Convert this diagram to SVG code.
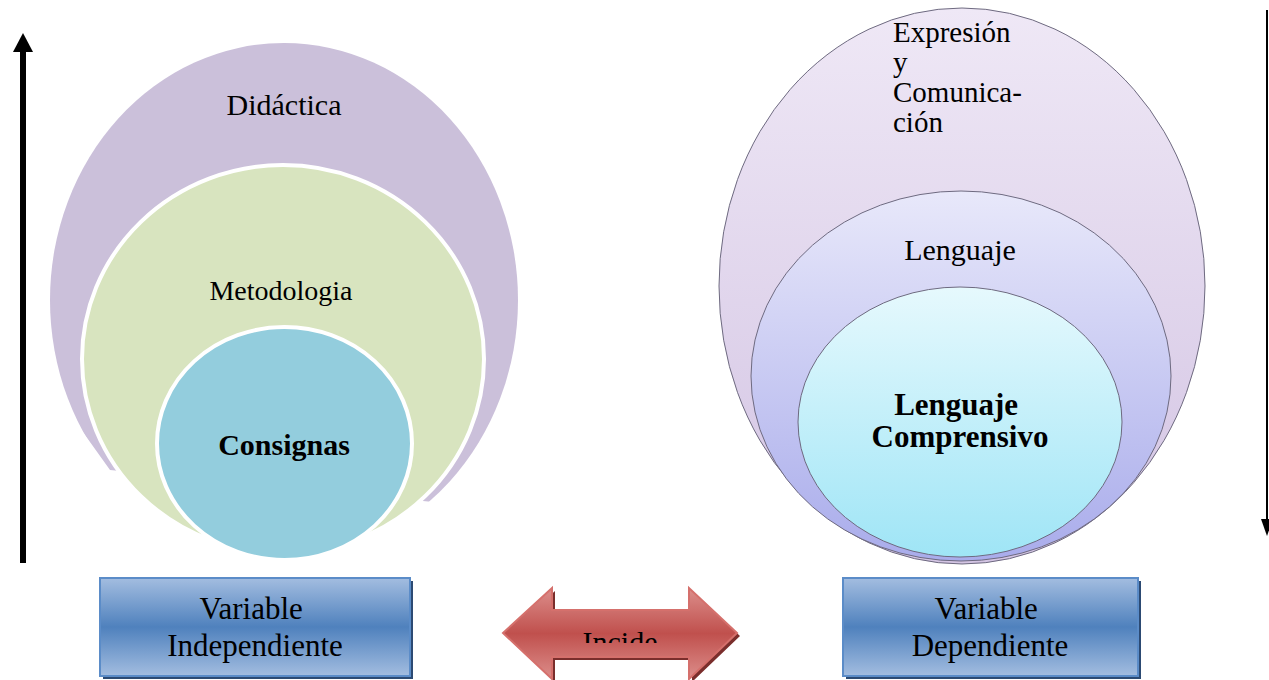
<svg xmlns="http://www.w3.org/2000/svg" width="1269" height="680" viewBox="0 0 1269 680">
<style>
  .t { font-family: "Liberation Serif", "Times New Roman", serif; fill: #000; }
  .b { font-weight: bold; }
  .rim { stroke: #6e6a80; stroke-width: 1; }
</style>
<defs>
  <linearGradient id="gOuter" x1="0" y1="0" x2="0" y2="1">
    <stop offset="0" stop-color="#efe8f6"/>
    <stop offset="1" stop-color="#d3c4e3"/>
  </linearGradient>
  <linearGradient id="gMid" x1="0" y1="0" x2="0" y2="1">
    <stop offset="0" stop-color="#e8e8fa"/>
    <stop offset="1" stop-color="#a9aceb"/>
  </linearGradient>
  <linearGradient id="gInner" x1="0" y1="0" x2="0" y2="1">
    <stop offset="0" stop-color="#e6f9fd"/>
    <stop offset="1" stop-color="#9fe5f6"/>
  </linearGradient>
  <linearGradient id="gBox" x1="0" y1="0" x2="0" y2="1">
    <stop offset="0" stop-color="#a3bde0"/>
    <stop offset="0.5" stop-color="#4f81bd"/>
    <stop offset="1" stop-color="#a3bde0"/>
  </linearGradient>
  <linearGradient id="gRed" x1="0" y1="0" x2="0" y2="1">
    <stop offset="0" stop-color="#dc8e8b"/>
    <stop offset="0.5" stop-color="#c0504d"/>
    <stop offset="1" stop-color="#dc8e8b"/>
  </linearGradient>
  <clipPath id="purpleClip">
    <path d="M0 0 H560 V502 L433 502 L110 470 L60 400 L0 400 Z"/>
  </clipPath>
  <clipPath id="incideClip">
    <rect x="560" y="600" width="120" height="43"/>
  </clipPath>
</defs>

<!-- Left nested circles -->
<g id="didactica">
  <ellipse cx="284" cy="300" rx="234" ry="257" fill="#cbc0da" clip-path="url(#purpleClip)"/>
  <text class="t" x="284" y="115" font-size="30" text-anchor="middle">Didáctica</text>
</g>
<g id="metodologia">
  <ellipse cx="283" cy="359" rx="201" ry="194" fill="#d8e4bf" stroke="#fff" stroke-width="4"/>
  <text class="t" x="281" y="300" font-size="28" text-anchor="middle">Metodologia</text>
</g>
<g id="consignas">
  <ellipse cx="284.5" cy="443.5" rx="127.5" ry="116.5" fill="#93cddd" stroke="#fff" stroke-width="4"/>
  <text class="t b" x="284" y="455" font-size="30" text-anchor="middle">Consignas</text>
</g>

<!-- Right nested circles -->
<g id="expresion">
  <ellipse cx="962" cy="286" rx="243" ry="278" fill="url(#gOuter)" class="rim"/>
  <text class="t" font-size="29">
    <tspan x="893" y="42">Expresión</tspan>
    <tspan x="893" y="72">y</tspan>
    <tspan x="893" y="102">Comunica-</tspan>
    <tspan x="893" y="132">ción</tspan>
  </text>
</g>
<g id="lenguaje">
  <ellipse cx="961" cy="376" rx="210" ry="185" fill="url(#gMid)" class="rim"/>
  <text class="t" x="960" y="260" font-size="30" text-anchor="middle">Lenguaje</text>
</g>
<g id="lenguaje-comprensivo">
  <ellipse cx="960" cy="422" rx="162" ry="135" fill="url(#gInner)" class="rim"/>
  <text class="t b" font-size="31" text-anchor="middle">
    <tspan x="960" y="415">Lenguaje</tspan>
    <tspan x="960" y="447">Comprensivo</tspan>
  </text>
</g>

<!-- Boxes -->
<g id="variable-independiente">
  <rect x="103" y="581" width="310" height="98" fill="#2c4a73"/>
  <rect x="100" y="578" width="310" height="98" fill="url(#gBox)" stroke="#5b8cc8" stroke-width="2"/>
  <text class="t" font-size="31" text-anchor="middle">
    <tspan x="255" y="619">Variable</tspan>
    <tspan x="255" y="656">Independiente</tspan>
  </text>
</g>
<g id="variable-dependiente">
  <rect x="846" y="581" width="295" height="98" fill="#2c4a73"/>
  <rect x="843" y="578" width="295" height="98" fill="url(#gBox)" stroke="#5b8cc8" stroke-width="2"/>
  <text class="t" font-size="31" text-anchor="middle">
    <tspan x="990" y="619">Variable</tspan>
    <tspan x="990" y="656">Dependiente</tspan>
  </text>
</g>

<!-- Double arrow Incide -->
<g id="incide">
  <path d="M506 636 L555 591 L555 613 L692 613 L692 591 L740 636 L692 682 L692 660 L555 660 L555 682 Z" fill="#7a2e2c"/>
  <path d="M503 633 L552 588 L552 610 L689 610 L689 588 L737 633 L689 679 L689 657 L552 657 L552 679 Z" fill="url(#gRed)" stroke="#d5706c" stroke-width="2"/>
  <text class="t" x="620" y="652" font-size="30" text-anchor="middle" clip-path="url(#incideClip)">Incide</text>
</g>

<!-- Connectors -->
<g id="connectors">
  <line x1="23" y1="563" x2="23" y2="50" stroke="#000" stroke-width="6"/>
  <path d="M13 52 L23 33 L33 52 Z" fill="#000"/>
  <line x1="1267" y1="10" x2="1267" y2="522" stroke="#000" stroke-width="2"/>
  <path d="M1261 519 L1273 519 L1267 536 Z" fill="#000"/>
</g>
</svg>
